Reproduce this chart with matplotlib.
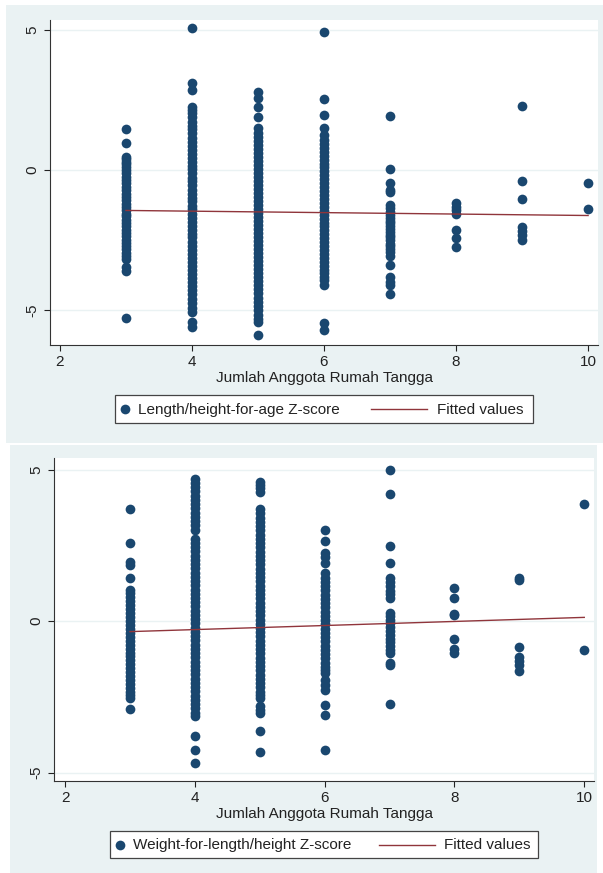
import matplotlib.pyplot as plt
from matplotlib.patches import Rectangle
from matplotlib.lines import Line2D
import numpy as np

plt.rcParams['font.family'] = ['Liberation Sans', 'DejaVu Sans']

# household size categories on the x axis
members = [3, 4, 5, 6, 7, 8, 9, 10]

# Length/height-for-age Z-score, one list per household size
haz_3 = [1.45, 0.95, 0.45, 0.38, 0.30, 0.20, 0.10, 0.0, -0.12, -0.25, -0.35, -0.48,
         -0.60, -0.72, -0.85, -0.95, -1.08, -1.20, -1.30, -1.42, -1.55, -1.65, -1.78,
         -1.90, -2.00, -2.12, -2.25, -2.35, -2.48, -2.60, -2.70, -2.82, -2.95, -3.05,
         -3.18, -3.45, -3.60, -5.28]
haz_4 = [5.05, 3.09, 2.85, 2.26, 2.15, 2.02, 1.88, 1.72, 1.58, 1.45, 1.30, 1.15, 1.0,
         0.86, 0.72, 0.58, 0.44, 0.30, 0.15, 0.02, -0.12, -0.27, -0.40, -0.55, -0.70,
         -0.84, -0.98, -1.12, -1.27, -1.40, -1.55, -1.70, -1.84, -1.98, -2.12, -2.27,
         -2.40, -2.55, -2.70, -2.84, -2.98, -3.12, -3.27, -3.40, -3.55, -3.70, -3.84,
         -3.98, -4.12, -4.28, -4.42, -4.58, -4.75, -4.92, -5.05, -5.40, -5.60]
haz_5 = [2.76, 2.55, 2.23, 1.88, 1.48, 1.30, 1.16, 1.02, 0.88, 0.74, 0.60, 0.45, 0.31,
         0.17, 0.03, -0.11, -0.25, -0.40, -0.54, -0.68, -0.82, -0.96, -1.10, -1.25,
         -1.39, -1.53, -1.67, -1.81, -1.95, -2.10, -2.24, -2.38, -2.52, -2.66, -2.80,
         -2.95, -3.09, -3.23, -3.37, -3.51, -3.65, -3.80, -3.94, -4.08, -4.22, -4.38,
         -4.55, -4.70, -4.85, -5.0, -5.15, -5.30, -5.40, -5.88]
haz_6 = [4.90, 2.52, 1.96, 1.48, 1.25, 1.07, 0.93, 0.79, 0.65, 0.51, 0.37, 0.23, 0.09,
         -0.05, -0.19, -0.33, -0.47, -0.61, -0.75, -0.89, -1.03, -1.17, -1.31, -1.45,
         -1.59, -1.73, -1.87, -2.01, -2.15, -2.29, -2.43, -2.57, -2.71, -2.85, -2.99,
         -3.13, -3.27, -3.41, -3.55, -3.68, -3.80, -3.92, -4.10, -5.46, -5.70]
haz_7 = [1.92, 0.05, -0.48, -0.71, -0.80, -1.25, -1.37, -1.50, -1.60, -1.70, -1.80,
         -1.90, -2.00, -2.10, -2.20, -2.30, -2.40, -2.50, -2.62, -2.72, -2.82, -2.92,
         -3.05, -3.38, -3.80, -3.98, -4.10, -4.40]
haz_8 = [-1.19, -1.31, -1.43, -1.57, -2.14, -2.43, -2.73]
haz_9 = [2.28, -0.38, -1.03, -2.02, -2.16, -2.32, -2.50]
haz_10 = [-0.45, -1.39]
haz = [haz_3, haz_4, haz_5, haz_6, haz_7, haz_8, haz_9, haz_10]
haz_fit = [-1.44, -1.62]  # fitted values at x = 3 and x = 10

# Weight-for-length/height Z-score
whz_3 = [3.69, 2.58, 1.96, 1.85, 1.41, 1.04, 0.91, 0.78, 0.65, 0.52, 0.39, 0.26, 0.13,
         0.0, -0.13, -0.26, -0.39, -0.52, -0.65, -0.78, -0.91, -1.04, -1.17, -1.30,
         -1.43, -1.56, -1.69, -1.82, -1.95, -2.08, -2.20, -2.33, -2.45, -2.55, -2.91]
whz_4 = [4.70, 4.56, 4.42, 4.28, 4.14, 4.00, 3.86, 3.72, 3.58, 3.44, 3.30, 3.16, 3.02,
         2.72, 2.58, 2.44, 2.30, 2.16, 2.02, 1.88, 1.74, 1.60, 1.46, 1.32, 1.18, 1.04,
         0.90, 0.76, 0.62, 0.48, 0.34, 0.20, 0.06, -0.08, -0.22, -0.36, -0.50, -0.64,
         -0.78, -0.92, -1.06, -1.20, -1.34, -1.48, -1.62, -1.76, -1.90, -2.04, -2.18,
         -2.32, -2.46, -2.60, -2.74, -2.88, -3.02, -3.15, -3.81, -4.25, -4.67]
whz_5 = [4.59, 4.50, 4.40, 4.26, 3.71, 3.55, 3.41, 3.27, 3.13, 2.99, 2.85, 2.71, 2.57,
         2.43, 2.29, 2.15, 2.01, 1.87, 1.73, 1.59, 1.45, 1.31, 1.17, 1.03, 0.89, 0.75,
         0.61, 0.47, 0.33, 0.19, 0.05, -0.09, -0.23, -0.37, -0.51, -0.65, -0.79, -0.93,
         -1.07, -1.21, -1.35, -1.49, -1.63, -1.77, -1.91, -2.05, -2.19, -2.33, -2.45,
         -2.55, -2.82, -2.95, -3.04, -3.63, -4.31]
whz_6 = [3.00, 2.65, 2.23, 2.10, 1.90, 1.57, 1.43, 1.29, 1.15, 1.01, 0.87, 0.73, 0.59,
         0.45, 0.31, 0.17, 0.03, -0.11, -0.25, -0.39, -0.53, -0.67, -0.81, -0.95,
         -1.09, -1.23, -1.37, -1.51, -1.63, -1.73, -1.95, -2.10, -2.27, -2.77, -3.10,
         -4.25]
whz_7 = [5.00, 4.18, 2.48, 1.90, 1.41, 1.30, 1.15, 1.00, 0.88, 0.75, 0.25, 0.15, 0.05,
         -0.08, -0.20, -0.32, -0.45, -0.58, -0.70, -0.82, -0.95, -1.07, -1.40, -1.45,
         -2.75]
whz_8 = [1.10, 0.77, 0.23, 0.20, -0.59, -0.93, -1.07]
whz_9 = [1.41, 1.37, -0.85, -1.18, -1.31, -1.45, -1.64]
whz_10 = [3.86, -0.96]
whz = [whz_3, whz_4, whz_5, whz_6, whz_7, whz_8, whz_9, whz_10]
whz_fit = [-0.35, 0.12]  # fitted values at x = 3 and x = 10

fit_x = [members[0], members[-1]]

navy = '#1A476F'
maroon = '#90353B'
panel_bg = '#EAF2F3'
dot = 7.0

W, H = 603, 873
fig = plt.figure(figsize=(W / 100, H / 100), dpi=100)
fig.patch.set_facecolor('white')


def fx(px):
    return px / W


def fy(py):
    return 1 - py / H


panels = [
    # series, fit, label, panel bg (l, t, r, b), axes (l, t, r, b), ylim, xlim, legend layout
    (haz, haz_fit, 'Length/height-for-age Z-score', (6, 5, 603, 443), (50, 20, 598, 345),
     (-6.23, 5.34), (1.85, 10.15), (115, 395, 533, 423, 125, 138, 371, 427, 437)),
    (whz, whz_fit, 'Weight-for-length/height Z-score', (10, 445, 597, 873), (54, 458, 594, 781),
     (-5.28, 5.38), (1.83, 10.15), (110, 831, 538, 858, 120, 133, 379, 435, 444)),
]

for series, fit, label, bg, pos, ylim, xlim, leg in panels:
    l, t, r, b = bg
    fig.add_artist(Rectangle((fx(l), fy(b)), fx(r - l), (b - t) / H, transform=fig.transFigure,
                             facecolor=panel_bg, edgecolor='none', zorder=0))

    l, t, r, b = pos
    ax = fig.add_axes([fx(l), fy(b), fx(r - l), (b - t) / H])
    ax.set_facecolor('white')
    for m, vals in zip(members, series):
        ax.plot(np.full(len(vals), m), vals, 'o', color=navy, markersize=dot,
                markeredgewidth=0, zorder=3)
    ax.plot(fit_x, fit, color=maroon, lw=1.0, zorder=4)

    ax.set_xlim(*xlim)
    ax.set_ylim(*ylim)
    ax.set_xticks([2, 4, 6, 8, 10])
    ax.set_yticks([-5, 0, 5])
    ax.set_yticklabels(['-5', '0', '5'], rotation=90, va='center')
    ax.tick_params(length=4, width=0.8, colors='#222222', labelsize=11, pad=3)
    ax.tick_params(axis='y', pad=4)
    ax.set_xlabel('Jumlah Anggota Rumah Tangga', fontsize=11, labelpad=1.5, color='#222222')
    ax.yaxis.grid(True, color=panel_bg, lw=1.0)
    ax.set_axisbelow(True)
    for side in ['top', 'right']:
        ax.spines[side].set_visible(False)
    for side in ['left', 'bottom']:
        ax.spines[side].set_color('#333333')
        ax.spines[side].set_linewidth(0.8)

    # legend box drawn below the axes
    bl, bt, br, bb, mx, tx, lx0, lx1, tx2 = leg
    cy = (bt + bb) / 2
    fig.add_artist(Rectangle((fx(bl), fy(bb)), fx(br - bl), (bb - bt) / H, transform=fig.transFigure,
                             facecolor='white', edgecolor='#444444', lw=0.9, zorder=2))
    fig.add_artist(Line2D([fx(mx)], [fy(cy)], marker='o', markersize=dot, color=navy,
                          markeredgewidth=0, transform=fig.transFigure, zorder=3))
    fig.text(fx(tx), fy(cy) - 0.001, label, fontsize=11, va='center', ha='left', color='#222222', zorder=3)
    fig.add_artist(Line2D([fx(lx0), fx(lx1)], [fy(cy), fy(cy)], color=maroon, lw=1.0,
                          transform=fig.transFigure, zorder=3))
    fig.text(fx(tx2), fy(cy) - 0.001, 'Fitted values', fontsize=11, va='center', ha='left',
             color='#222222', zorder=3)

fig.savefig('out.png', dpi=100)
